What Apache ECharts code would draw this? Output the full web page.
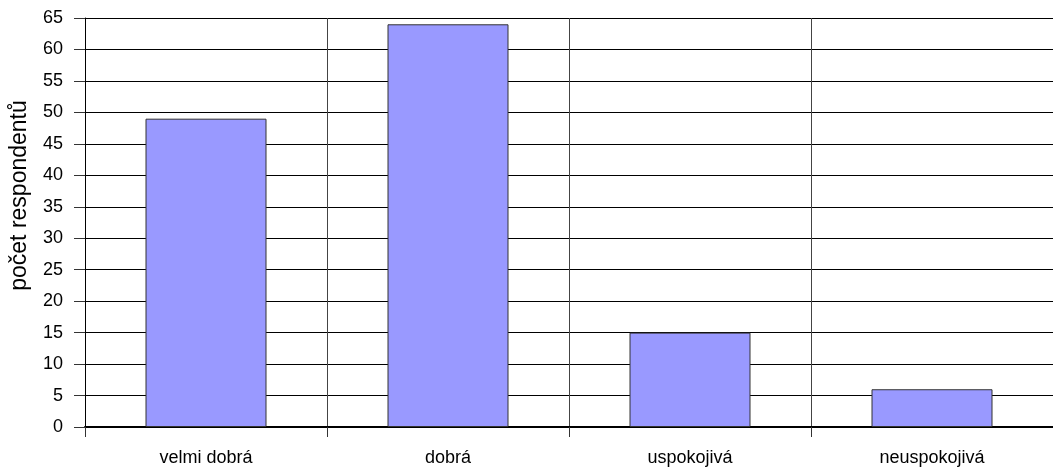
<!DOCTYPE html>
<html>
<head>
<meta charset="utf-8">
<script src="https://cdn.jsdelivr.net/npm/echarts@6/dist/echarts.min.js"></script>
<style>
html,body{margin:0;padding:0;background:#fff;}
#chart{width:1053px;height:468px;}
</style>
</head>
<body>
<div id="chart"></div>
<script>
const categories = ['velmi dobrá', 'dobrá', 'uspokojivá', 'neuspokojivá'];
const values = [49, 64, 15, 6];
const yAxisName = 'počet respondentů';

const FONT = 'Liberation Sans, Arial, sans-serif';
const chart = echarts.init(document.getElementById('chart'), null, {renderer: 'canvas'});
chart.setOption({
  animation: false,
  backgroundColor: '#ffffff',
  grid: {left: 85, top: 18, width: 972, height: 409, containLabel: false},
  xAxis: {
    type: 'category',
    data: categories,
    boundaryGap: true,
    axisLine: {show: true, lineStyle: {color: '#000', width: 2}},
    axisTick: {show: true, length: 10, lineStyle: {color: '#333', width: 1}},
    axisLabel: {color: '#000', fontFamily: FONT, fontSize: 18, margin: 22},
    splitLine: {show: true, lineStyle: {color: '#444', width: 1}}
  },
  yAxis: {
    type: 'value',
    min: 0, max: 65, interval: 5,
    name: yAxisName,
    nameLocation: 'middle',
    nameGap: 54,
    nameRotate: 90,
    nameTextStyle: {color: '#000', fontFamily: FONT, fontSize: 23, padding: [0, 0, 0, 54]},
    axisLine: {show: true, lineStyle: {color: '#000', width: 1}},
    axisTick: {show: true, length: 11, lineStyle: {color: '#333', width: 1}},
    axisLabel: {color: '#000', fontFamily: FONT, fontSize: 18, margin: 22},
    splitLine: {show: true, lineStyle: {color: '#000', width: 1}}
  },
  series: [{
    type: 'bar',
    data: values,
    barWidth: '50%',
    itemStyle: {color: '#9999ff', borderColor: '#333', borderWidth: 1}
  }]
});
</script>
</body>
</html>
